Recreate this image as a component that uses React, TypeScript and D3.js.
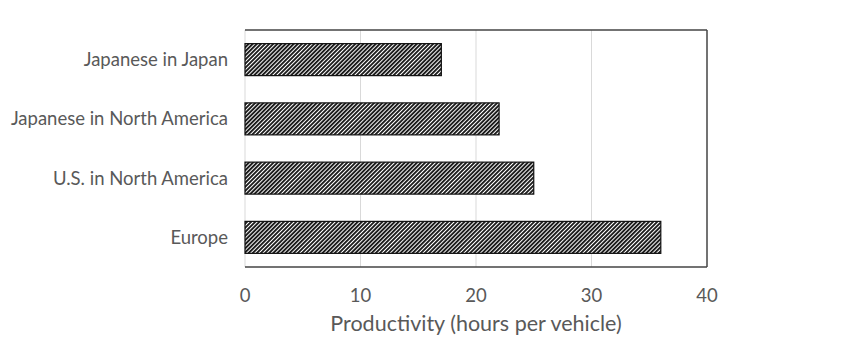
import React from "react";
import * as d3 from "d3";

const categories = ["Japanese in Japan", "Japanese in North America", "U.S. in North America", "Europe"];
const values = [17, 22, 25, 36];
const xTicks = [0, 10, 20, 30, 40];
const xTitle = "Productivity (hours per vehicle)";

export default function App() {
  const W = 846, H = 351;
  const left = 245, right = 707, top = 30, bottom = 267;
  const x = d3.scaleLinear().domain([0, 40]).range([left, right]);
  const y = d3.scaleBand<string>().domain(categories).range([top, bottom]).paddingInner(0.46).paddingOuter(0.23);
  const font = "Lato, 'Open Sans', sans-serif";
  return (
    <svg width={W} height={H} style={{ position: "absolute", left: 0, top: 0, background: "#fff" }}>
      <defs>
        <pattern id="hatch" patternUnits="userSpaceOnUse" width="2.9" height="4" patternTransform="rotate(45)">
          <rect width="2.9" height="4" fill="#ffffff" />
          <rect x="0" y="0" width="1.9" height="4" fill="#1a1a1a" />
        </pattern>
      </defs>
      {xTicks.filter(t => t > 0 && t < 40).map(t => (
        <line key={t} x1={x(t)} x2={x(t)} y1={top} y2={bottom} stroke="#d9d9d9" strokeWidth={1} />
      ))}
      <line x1={left} x2={left} y1={top} y2={bottom} stroke="#d9d9d9" strokeWidth={1} />
      <line x1={left} x2={right} y1={top} y2={top} stroke="#444" strokeWidth={1.5} />
      <line x1={right} x2={right} y1={top} y2={bottom} stroke="#444" strokeWidth={1.5} />
      <line x1={left} x2={right} y1={bottom} y2={bottom} stroke="#444" strokeWidth={1.5} />
      {categories.map((c, i) => (
        <g key={c}>
          <rect x={x(0)} y={y(c)} width={x(values[i]) - x(0)} height={y.bandwidth()} fill="url(#hatch)" stroke="#111" strokeWidth={1.2} />
          <text x={228} y={(y(c) as number) + y.bandwidth() / 2} dy="0.35em" textAnchor="end" fontFamily={font} fontSize={18.5} fill="#595959">{c}</text>
        </g>
      ))}
      {xTicks.map(t => (
        <text key={t} x={x(t)} y={296} dy="0.35em" textAnchor="middle" fontFamily={font} fontSize={18.5} fill="#595959">{t}</text>
      ))}
      <text x={(left + right) / 2} y={331} textAnchor="middle" fontFamily={font} fontSize={21.5} fill="#595959">{xTitle}</text>
    </svg>
  );
}
